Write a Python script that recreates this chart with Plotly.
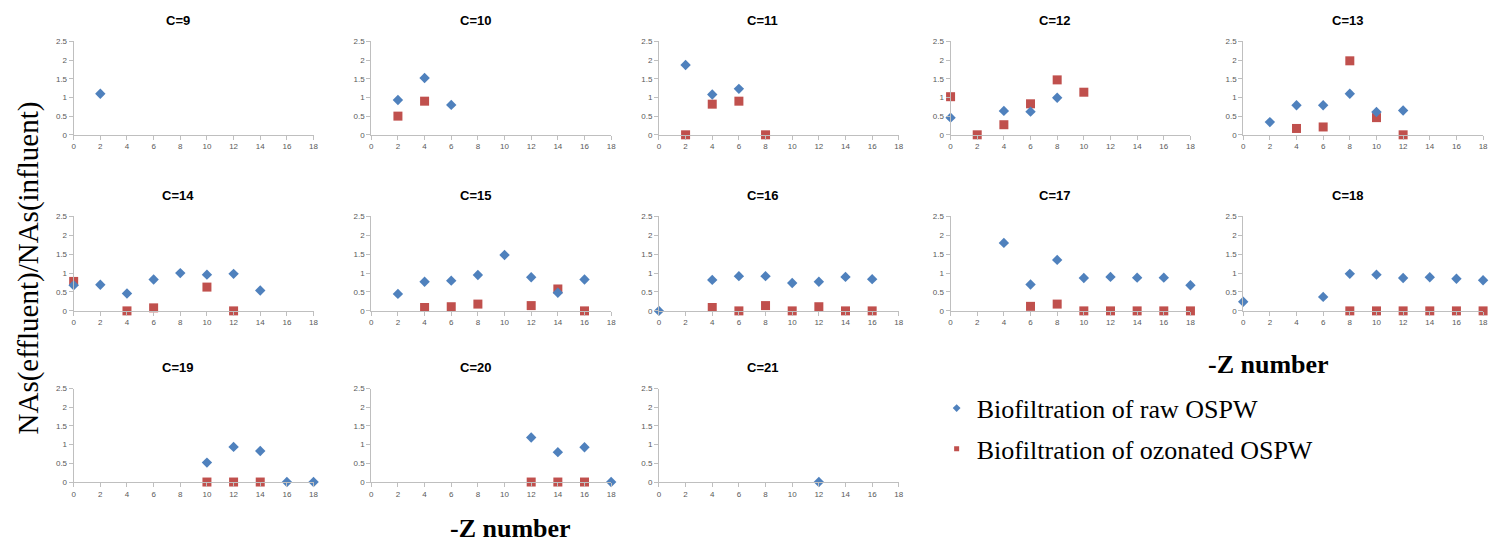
import plotly.graph_objects as go

# -Z numbers (x positions)
z_numbers = [0, 2, 4, 6, 8, 10, 12, 14, 16, 18]
carbon_labels = ["C=9", "C=10", "C=11", "C=12", "C=13", "C=14", "C=15",
                 "C=16", "C=17", "C=18", "C=19", "C=20", "C=21"]

N = None
# Biofiltration of raw OSPW (ratio effluent/influent), aligned with z_numbers
raw_c9  = [N, 1.10, N, N, N, N, N, N, N, N]
raw_c10 = [N, 0.93, 1.52, 0.80, N, N, N, N, N, N]
raw_c11 = [N, 1.87, 1.08, 1.23, N, N, N, N, N, N]
raw_c12 = [0.46, N, 0.64, 0.62, 0.99, N, N, N, N, N]
raw_c13 = [N, 0.34, 0.79, 0.79, 1.10, 0.61, 0.65, N, N, N]
raw_c14 = [0.68, 0.69, 0.46, 0.83, 1.00, 0.96, 0.98, 0.54, N, N]
raw_c15 = [N, 0.45, 0.77, 0.80, 0.95, 1.48, 0.89, 0.48, 0.83, N]
raw_c16 = [0.00, N, 0.82, 0.92, 0.92, 0.74, 0.77, 0.90, 0.84, N]
raw_c17 = [N, N, 1.80, 0.70, 1.35, 0.87, 0.90, 0.88, 0.88, 0.68]
raw_c18 = [0.24, N, N, 0.37, 0.98, 0.96, 0.87, 0.89, 0.85, 0.81]
raw_c19 = [N, N, N, N, N, 0.52, 0.94, 0.83, 0.00, 0.00]
raw_c20 = [N, N, N, N, N, N, 1.19, 0.80, 0.93, 0.00]
raw_c21 = [N, N, N, N, N, N, 0.00, N, N, N]

# Biofiltration of ozonated OSPW
ozo_c9  = [N, N, N, N, N, N, N, N, N, N]
ozo_c10 = [N, 0.50, 0.90, N, N, N, N, N, N, N]
ozo_c11 = [N, 0.00, 0.82, 0.90, 0.00, N, N, N, N, N]
ozo_c12 = [1.02, 0.00, 0.27, 0.83, 1.47, 1.14, N, N, N, N]
ozo_c13 = [N, N, 0.17, 0.21, 1.98, 0.46, 0.00, N, N, N]
ozo_c14 = [0.78, N, 0.00, 0.08, N, 0.63, 0.00, N, N, N]
ozo_c15 = [N, N, 0.09, 0.11, 0.18, N, 0.14, 0.58, 0.00, N]
ozo_c16 = [N, N, 0.09, 0.00, 0.14, 0.00, 0.11, 0.00, 0.00, N]
ozo_c17 = [N, N, N, 0.12, 0.18, 0.00, 0.00, 0.00, 0.00, 0.00]
ozo_c18 = [N, N, N, N, 0.00, 0.00, 0.00, 0.00, 0.00, 0.00]
ozo_c19 = [N, N, N, N, N, 0.00, 0.00, 0.00, N, N]
ozo_c20 = [N, N, N, N, N, N, 0.00, 0.00, 0.00, N]
ozo_c21 = [N, N, N, N, N, N, N, N, N, N]

raw_series = [raw_c9, raw_c10, raw_c11, raw_c12, raw_c13, raw_c14, raw_c15,
              raw_c16, raw_c17, raw_c18, raw_c19, raw_c20, raw_c21]
ozo_series = [ozo_c9, ozo_c10, ozo_c11, ozo_c12, ozo_c13, ozo_c14, ozo_c15,
              ozo_c16, ozo_c17, ozo_c18, ozo_c19, ozo_c20, ozo_c21]

x_ticks = [0, 2, 4, 6, 8, 10, 12, 14, 16, 18]
y_ticks = [0, 0.5, 1, 1.5, 2, 2.5]

W, H = 1506, 549
col_left = [72, 371, 660, 953, 1247]
plot_w = 241
row_span = [(38, 133), (216, 312), (391, 486)]

BLUE = "#4F81BD"
RED = "#C0504D"
AXIS = "#BFBFBF"
TICKF = dict(family="Liberation Sans Narrow, Liberation Sans, Arial", size=8, color="#595959")

fig = go.Figure()
layout = dict()
annotations = []

for i, (lab, raw, ozo) in enumerate(zip(carbon_labels, raw_series, ozo_series)):
    r, c = divmod(i, 5)
    n = i + 1
    xa = "x" if n == 1 else f"x{n}"
    ya = "y" if n == 1 else f"y{n}"
    x0 = col_left[c]
    top, bot = row_span[r]
    xd = [x0 / W, (x0 + plot_w) / W]
    yd = [1 - bot / H, 1 - top / H]
    key = "" if n == 1 else str(n)
    layout["xaxis" + key] = dict(
        domain=xd, range=[0, 18], tickvals=x_ticks, anchor=ya,
        showline=True, linecolor=AXIS, linewidth=1, ticks="outside",
        ticklen=4, tickcolor=AXIS, showgrid=False, zeroline=False,
        tickfont=TICKF, fixedrange=True,
    )
    layout["yaxis" + key] = dict(
        domain=yd, range=[0, 2.5], tickvals=y_ticks, anchor=xa,
        showline=True, linecolor=AXIS, linewidth=1, ticks="outside",
        ticklen=4, tickcolor=AXIS, showgrid=False, zeroline=False,
        tickfont=TICKF, fixedrange=True,
    )
    fig.add_trace(go.Scatter(
        x=z_numbers, y=ozo, mode="markers", xaxis=xa, yaxis=ya,
        marker=dict(symbol="square", size=9, color=RED),
        name="Biofiltration of ozonated OSPW", showlegend=False,
        cliponaxis=False,
    ))
    fig.add_trace(go.Scatter(
        x=z_numbers, y=raw, mode="markers", xaxis=xa, yaxis=ya,
        marker=dict(symbol="diamond", size=8, color=BLUE),
        name="Biofiltration of raw OSPW", showlegend=False,
        cliponaxis=False,
    ))
    annotations.append(dict(
        text=f"<b>{lab}</b>", xref="paper", yref="paper",
        x=(x0 + plot_w / 2 - 16) / W, y=1 - (top - 21) / H,
        showarrow=False, xanchor="center", yanchor="middle",
        font=dict(family="Liberation Sans, Arial", size=13, color="#000000"),
    ))

# legend entries (small symbols as in the original legend)
fig.add_trace(go.Scatter(
    x=[None], y=[None], mode="markers", name="Biofiltration of raw OSPW",
    marker=dict(symbol="diamond", size=6, color=BLUE),
    legendgroup="raw", legendrank=1,
))
fig.add_trace(go.Scatter(
    x=[None], y=[None], mode="markers", name="Biofiltration of ozonated OSPW",
    marker=dict(symbol="square", size=5, color=RED),
    legendgroup="ozo", legendrank=2,
))

serif = "Liberation Serif, Times New Roman, serif"
annotations.append(dict(
    text="NAs(effluent)/NAs(influent)", xref="paper", yref="paper",
    x=27 / W, y=1 - 268 / H, textangle=-90, showarrow=False,
    xanchor="center", yanchor="middle",
    font=dict(family=serif, size=29, color="#000000"),
))
annotations.append(dict(
    text="<b>-Z number</b>", xref="paper", yref="paper",
    x=1272 / W, y=1 - 366 / H, showarrow=False,
    xanchor="center", yanchor="middle",
    font=dict(family=serif, size=26, color="#000000"),
))
annotations.append(dict(
    text="<b>-Z number</b>", xref="paper", yref="paper",
    x=511 / W, y=1 - 533 / H, showarrow=False,
    xanchor="center", yanchor="middle",
    font=dict(family=serif, size=26, color="#000000"),
))

fig.update_layout(
    **layout,
    width=W, height=H, autosize=False,
    margin=dict(l=0, r=0, t=0, b=0),
    paper_bgcolor="white", plot_bgcolor="white",
    annotations=annotations,
    legend=dict(
        x=939 / W, y=1 - 387 / H, xanchor="left", yanchor="top",
        font=dict(family=serif, size=26, color="#000000"),
        tracegroupgap=4, itemwidth=30, bgcolor="rgba(0,0,0,0)",
        itemsizing="trace",
    ),
)

fig.write_html(
    "out.html",
    config={"displayModeBar": False},
    post_script="document.body.style.margin='0';document.body.style.overflow='hidden';",
)
